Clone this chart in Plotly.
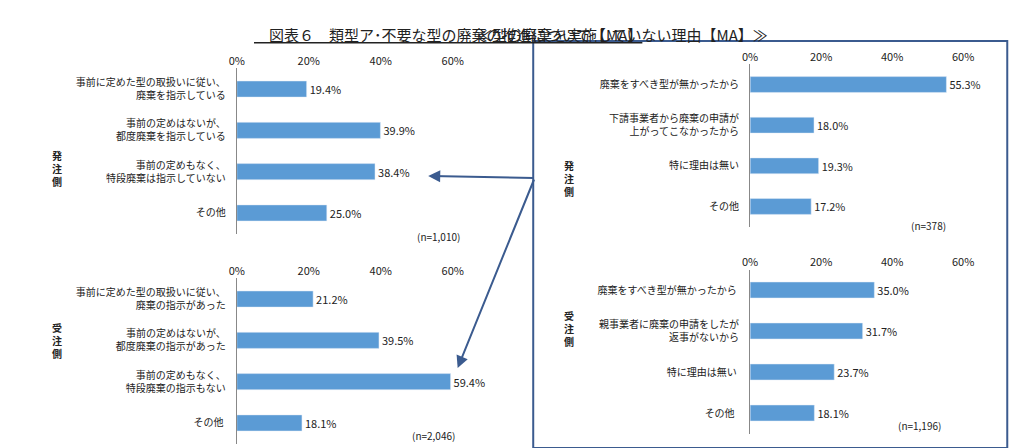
import plotly.graph_objects as go

lt_cats = ["事前に定めた型の取扱いに従い、<br>廃棄を指示している", "事前の定めはないが、<br>都度廃棄を指示している", "事前の定めもなく、<br>特段廃棄は指示していない", "その他"]
lt_vals = [19.4, 39.9, 38.4, 25.0]
lb_cats = ["事前に定めた型の取扱いに従い、<br>廃棄の指示があった", "事前の定めはないが、<br>都度廃棄の指示があった", "事前の定めもなく、<br>特段廃棄の指示もない", "その他 "]
lb_vals = [21.2, 39.5, 59.4, 18.1]
rt_cats = ["廃棄をすべき型が無かったから", "下請事業者から廃棄の申請が<br>上がってこなかったから", "特に理由は無い", "その他"]
rt_vals = [55.3, 18.0, 19.3, 17.2]
rb_cats = ["廃棄をすべき型が無かったから ", "親事業者に廃棄の申請をしたが<br>返事がないから", "特に理由は無い ", "その他  "]
rb_vals = [35.0, 31.7, 23.7, 18.1]
ticks = [0, 20, 40, 60]
tick_text = ["0%", "20%", "40%", "60%"]

W, H = 1024, 448
def fx(p): return p / W
def fy(p): return 1 - p / H

panels = [
    (lt_cats, lt_vals, (225, 445), (60.4, 225.6)),
    (lb_cats, lb_vals, (225, 445), (270.4, 435.6)),
    (rt_cats, rt_vals, (748, 965), (56.2, 218.8)),
    (rb_cats, rb_vals, (748, 965), (261.5, 425.5)),
]
fig = go.Figure()
font = "Noto Sans CJK JP"
for i, (cats, vals, xr, yr) in enumerate(panels):
    n = "" if i == 0 else str(i + 1)
    fig.add_trace(go.Bar(
        y=cats, x=vals, orientation="h", marker_color="#5b9bd5", width=0.39,
        text=[f"{v:.1f}%" for v in vals], textposition="outside",
        textfont=dict(size=11, color="#222"), cliponaxis=False,
        xaxis="x" + n, yaxis="y" + n, showlegend=False, hoverinfo="skip"))
    fig.layout["xaxis" + n] = dict(domain=[fx(xr[0]), fx(xr[1])], range=[0, 60], side="top",
        anchor="y" + n, tickvals=ticks, ticktext=tick_text, showgrid=False, zeroline=False,
        showline=False, tickfont=dict(size=11, color="#222"))
    fig.layout["yaxis" + n] = dict(domain=[fy(yr[1]), fy(yr[0])], autorange="reversed",
        anchor="x" + n, showline=True, linecolor="#888", ticks="",
        tickfont=dict(size=10, color="#222"), ticklabelstandoff=8)

ann = []
def txt(x, y, t, size=10, **kw):
    ann.append(dict(x=fx(x), y=fy(y), xref="paper", yref="paper", text=t, showarrow=False,
                    font=dict(size=size, color="#222", family=font), **kw))
txt(240, 14, "<u>　図表６　類型ア･不要な型の廃棄の推進について【MA】</u>", 15)
txt(768, 14, "≪型の廃棄を実施していない理由【MA】≫", 15)
for x, y, t in [(35, 138, "発<br>注<br>側"), (35, 355, "受<br>注<br>側"),
                (563, 148, "発<br>注<br>側"), (563, 343, "受<br>注<br>側")]:
    txt(x, y, f"<b>{t}</b>", 10)
txt(430, 228, "(n=1,010)", 10)
txt(425, 437, "(n=2,046)", 10)
txt(950, 218, "(n=378)", 10)
txt(945, 427, "(n=1,196)", 10)
for tx, ty in [(420, 168), (450, 360)]:
    ann.append(dict(x=fx(tx), y=fy(ty), xref="paper", yref="paper", ax=527 - tx, ay=170 - ty,
                    text="", showarrow=True, arrowhead=2,
                    arrowsize=1.2, arrowwidth=2, arrowcolor="#3b5b8f"))

fig.update_layout(width=W, height=H, margin=dict(l=0, r=0, t=0, b=0),
    plot_bgcolor="white", paper_bgcolor="white", font=dict(family=font), annotations=ann,
    shapes=[dict(type="rect", xref="paper", yref="paper", x0=fx(527), x1=fx(1010),
                 y0=fy(440), y1=fy(33), line=dict(color="#3b5b8f", width=2))])
fig.write_html("out.html")
